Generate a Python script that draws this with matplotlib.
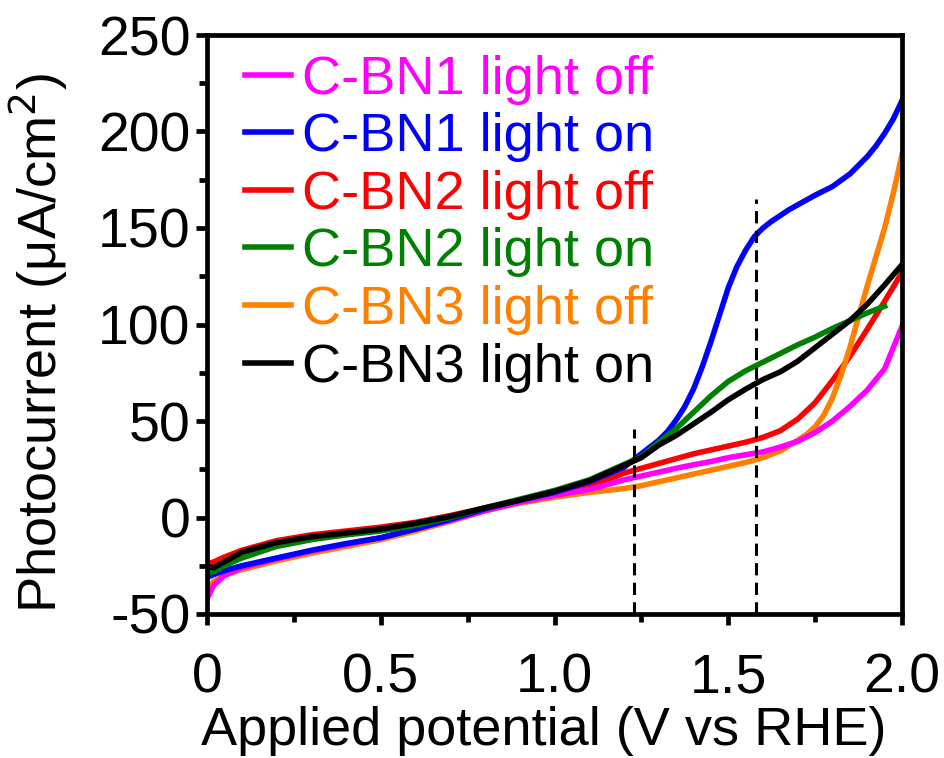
import matplotlib
matplotlib.use("Agg")
import matplotlib.pyplot as plt
import numpy as np
from matplotlib.ticker import MultipleLocator

plt.rcParams['font.family'] = ['Liberation Sans', 'DejaVu Sans']
plt.rcParams['axes.unicode_minus'] = False

# ---- data ----
x = [0, 0.02, 0.05, 0.1, 0.2, 0.3, 0.4, 0.5, 0.6, 0.7, 0.8, 0.9, 1.0, 1.1, 1.2,
     1.25, 1.3, 1.35, 1.4, 1.45, 1.5, 1.55, 1.6, 1.65, 1.7, 1.75, 1.8, 1.85,
     1.9, 1.95, 2.0]

bn1_off = [-42, -35, -30, -26, -21.5, -17.5, -14, -10.5, -6, -1.5, 3.5, 8, 11.5, 14.5, 19.5,
           21.5, 23.5, 25.5, 27.3, 29, 31, 32.5, 34, 36.5, 39.5, 44, 50, 57.5,
           66, 77, 99]
bn2_off = [-24, -23, -20.5, -17, -12, -9, -7, -5, -2.5, 1, 5, 8.5, 12, 16, 23,
           25.5, 28, 30.5, 33, 35, 37, 39, 41.5, 45, 51, 59.5, 71, 83.5,
           97.5, 112, 127]
bn2_on = [-29, -28, -25, -21, -15, -11.5, -9, -7, -4, 0, 5, 9.5, 14, 19.5, 27.5,
          31.5, 39, 46, 54.5, 63, 70.5, 76, 80.5, 85, 89.5, 93.5, 98, 102,
          106, 109.5, np.nan]
bn3_on = [-25.5, -26, -23, -18, -13, -10, -8, -6, -3, 0.5, 5, 9, 13.5, 19, 27,
          31, 37.5, 42.5, 48.5, 54.5, 61, 66.5, 71.5, 75.5, 81, 88, 95, 102,
          110.5, 120.5, 131]

# finer readings for the steeper curves
x_bn1_on = [0, 0.02, 0.05, 0.1, 0.2, 0.3, 0.4, 0.5, 0.6, 0.7, 0.8, 0.9, 1.0, 1.1,
            1.2, 1.225, 1.25, 1.275, 1.3, 1.325, 1.35, 1.375, 1.4, 1.425, 1.45,
            1.475, 1.5, 1.525, 1.55, 1.575, 1.6, 1.625, 1.65, 1.675, 1.7, 1.75,
            1.8, 1.85, 1.9, 1.925, 1.95, 1.975, 2.0]
bn1_on = [-31, -29.5, -27.5, -25, -21, -17, -13.5, -10.5, -6, -1, 4.5, 9, 13, 18.5,
          26, 29.5, 33, 36.5, 40, 44.5, 50.5, 57.5, 66.5, 78, 91,
          105, 119, 130, 138.5, 145.5, 150, 153.5, 156.5, 159.5, 162, 167,
          171.5, 178, 187, 192.5, 199, 206.5, 216]

x_bn3_off = [0, 0.02, 0.05, 0.1, 0.2, 0.3, 0.4, 0.5, 0.6, 0.7, 0.8, 0.9, 1.0, 1.1,
             1.2, 1.25, 1.3, 1.35, 1.4, 1.45, 1.5, 1.55, 1.6, 1.65, 1.7, 1.725,
             1.75, 1.775, 1.8, 1.825, 1.85, 1.875, 1.9, 1.925, 1.95, 1.975, 2.0]
bn3_off = [-37, -33, -30, -27, -22.5, -18.5, -15, -11.5, -7, -2, 3.5, 7.5, 10.5, 13,
           15, 16.5, 18.5, 20.5, 22.5, 24.5, 26.5, 28.5, 31, 34.5, 40, 43,
           47, 53, 62, 74, 88, 104, 120, 135, 150, 168, 188]

labels = ["C-BN1 light off", "C-BN1 light on", "C-BN2 light off",
          "C-BN2 light on", "C-BN3 light off", "C-BN3 light on"]
colors = ["#FF00FF", "#0000FF", "#FF0000", "#008000", "#FF8000", "#000000"]
series_x = [x, x_bn1_on, x, x, x_bn3_off, x]
series_y = [bn1_off, bn1_on, bn2_off, bn2_on, bn3_off, bn3_on]

# dashed guide lines (x position, top value)
guide_x = [1.23, 1.58]
guide_top = [46, 165]

xticks = [0, 0.5, 1.0, 1.5, 2.0]
xticklabels = ["0", "0.5", "1.0", "1.5", "2.0"]
yticks = [-50, 0, 50, 100, 150, 200, 250]

# ---- figure ----
fig = plt.figure(figsize=(9.44, 7.58), dpi=100)
ax = fig.add_axes([207/944, 1-614/758, (902-207)/944, (614-35)/758])

order = [2, 4, 0, 1, 3, 5]
handles = {}
for i in order:
    h, = ax.plot(series_x[i], series_y[i], color=colors[i], lw=4.0,
                 label=labels[i], solid_joinstyle='round')
    handles[i] = h

for gx, gt in zip(guide_x, guide_top):
    ax.plot([gx, gx], [-50, gt], color='black', lw=2.2, ls=(0, (4, 2.4)))

ax.set_xlim(0, 2.0)
ax.set_ylim(-50, 250)
ax.set_xticks(xticks)
ax.set_xticklabels(xticklabels)
ax.set_yticks(yticks)
ax.xaxis.set_minor_locator(MultipleLocator(0.25))
ax.yaxis.set_minor_locator(MultipleLocator(25))

for s in ax.spines.values():
    s.set_linewidth(3.4)

ax.tick_params(which='major', direction='out', length=8, width=3.4,
               labelsize=40, top=False, right=False, pad=4)
ax.tick_params(which='minor', direction='out', length=5.5, width=3.4,
               top=False, right=False)
ax.tick_params(axis='x', which='major', pad=20)

ax.set_xlabel("Applied potential (V vs RHE)", fontsize=39, labelpad=1)
ax.set_ylabel("Photocurrent (μA/cm$^2$)", fontsize=39, labelpad=20)
ax.xaxis.label.set_x(0.484)
ax.yaxis.label.set_y(0.469)

leg = ax.legend([handles[i] for i in range(6)], labels, loc='upper left',
                bbox_to_anchor=(0.054, 0.966), frameon=False, fontsize=39,
                handlelength=0.85, handletextpad=0.22, labelspacing=0.14,
                borderpad=0, borderaxespad=0, labelcolor='linecolor')

fig.savefig("out.png", dpi=100)
